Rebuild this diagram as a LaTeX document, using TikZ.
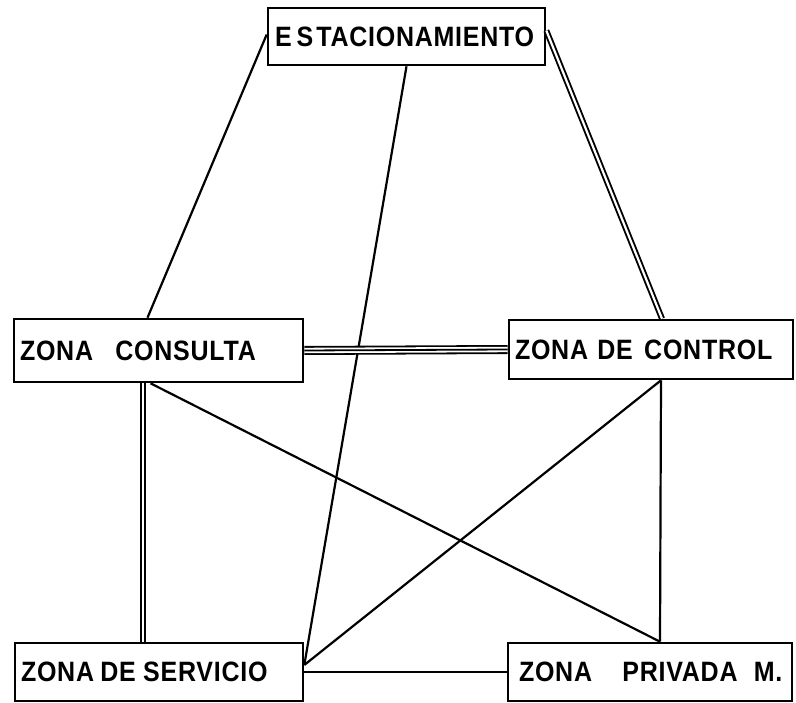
\documentclass[tikz,border=0pt]{standalone}
\usepackage{fontspec}
\usepackage{graphicx}
\newfontfamily\zonafont[LetterSpace=3]{Liberation Sans Bold}
\newcommand{\alto}[1]{\scalebox{1}[1.12]{#1}}
\tikzset{
  zona/.style={draw, line width=2.6pt, minimum height=60pt, inner xsep=6pt, inner ysep=0pt,
    align=left, font=\zonafont\fontsize{25pt}{28pt}\selectfont},
  enlace/.style={line width=2.2pt},
  dobleenlace/.style={line width=1.9pt, double, double distance=2.2pt},
  tripleenlace/.style={line width=1.8pt, double, double distance=5.4pt}
}

\begin{document}
\begin{tikzpicture}[x=1pt,y=-1pt]
\useasboundingbox (0,0) rectangle (796,703);
% zonas
\node[zona, minimum height=57pt, text width=263pt, inner xsep=7pt] (estac) at (406.5,36.5)
  {\alto{E\hspace{5pt}S\hspace{3pt}TACIONAMIENTO}};
\node[zona, minimum height=63pt, text width=277pt] (consulta) at (158.5,350.5)
  {\alto{ZONA\hspace{14pt} CONSULTA}};
\node[zona, minimum height=59pt, text width=272pt] (control) at (651,349.5)
  {\alto{ZONA\hspace{1pt} DE\hspace{3pt} CONTROL}};
\node[zona, minimum height=58pt, text width=276pt] (servicio) at (159,672)
  {\alto{ZONA\hspace{-2pt} DE\hspace{-1pt} SERVICIO}};
\node[zona, minimum height=58pt, text width=262pt, inner xsep=11pt] (privada) at (650,672)
  {\alto{ZONA\hspace{22pt} PRIVADA\hspace{8pt} M.}};
% enlaces simples
\draw[enlace] ([yshift=2pt]estac.west) -- ([xshift=-11pt]consulta.north);
\draw[enlace] (estac.south) -- ([yshift=7pt]servicio.east);
\draw[enlace] ([xshift=-8pt]consulta.south) -- ([xshift=10pt]privada.north);
\draw[enlace] ([xshift=10pt]control.south) -- ([yshift=7pt]servicio.east);
\draw[enlace] ([xshift=10pt]control.south) -- ([xshift=10pt]privada.north);
\draw[enlace] (servicio.east) -- (privada.west);
% enlaces dobles
\draw[dobleenlace] ([yshift=6pt]estac.east) -- ([xshift=11pt]control.north);
\draw[dobleenlace] ([xshift=-15.5pt]consulta.south) -- ([xshift=-16pt]servicio.north);
% enlace triple
\draw[tripleenlace] (consulta.east) -- (control.west);
\draw[enlace, line width=1.8pt] (consulta.east) -- (control.west);
\end{tikzpicture}
\end{document}
